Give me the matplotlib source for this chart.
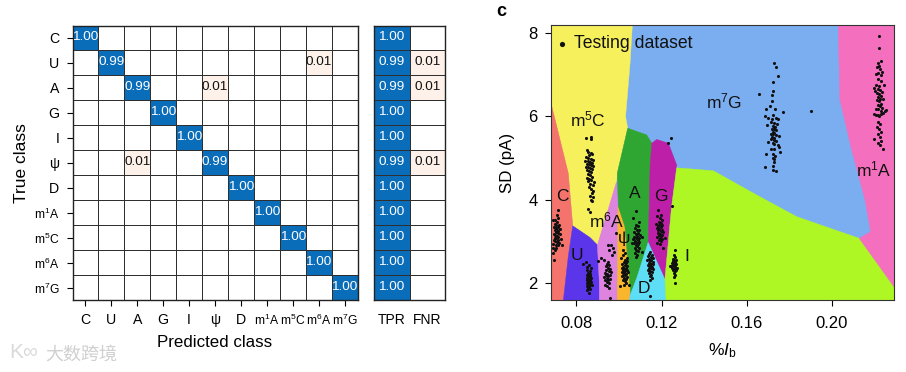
# -*- coding: UTF-8 -*-
import matplotlib
matplotlib.use('Agg')
from matplotlib import pyplot as plt
from matplotlib.colors import ListedColormap, BoundaryNorm
from matplotlib.patches import Polygon

plt.rcParams['font.family'] = ['Liberation Sans', 'DejaVu Sans']
plt.rcParams['mathtext.fontset'] = 'custom'
plt.rcParams['mathtext.rm'] = 'Liberation Sans'
plt.rcParams['mathtext.it'] = 'Liberation Sans:italic'

pred_labels = ['C', 'U', 'A', 'G', 'I', 'ψ', 'D', 'm$^1$A', 'm$^5$C', 'm$^6$A', 'm$^7$G']
rate_labels = ['TPR', 'FNR']

confusion = [
    [1.00, 0, 0, 0, 0, 0, 0, 0, 0, 0, 0],
    [0, 0.99, 0, 0, 0, 0, 0, 0, 0, 0.01, 0],
    [0, 0, 0.99, 0, 0, 0.01, 0, 0, 0, 0, 0],
    [0, 0, 0, 1.00, 0, 0, 0, 0, 0, 0, 0],
    [0, 0, 0, 0, 1.00, 0, 0, 0, 0, 0, 0],
    [0, 0, 0.01, 0, 0, 0.99, 0, 0, 0, 0, 0],
    [0, 0, 0, 0, 0, 0, 1.00, 0, 0, 0, 0],
    [0, 0, 0, 0, 0, 0, 0, 1.00, 0, 0, 0],
    [0, 0, 0, 0, 0, 0, 0, 0, 1.00, 0, 0],
    [0, 0, 0, 0, 0, 0, 0, 0, 0, 1.00, 0],
    [0, 0, 0, 0, 0, 0, 0, 0, 0, 0, 1.00],
]
tpr = [1.00, 0.99, 0.99, 1.00, 1.00, 0.99, 1.00, 1.00, 1.00, 1.00, 1.00]
fnr = [0, 0.01, 0.01, 0, 0, 0.01, 0, 0, 0, 0, 0]

# decision regions as (%Ib, SD)
region_m5C = [(.0681, 8.19), (.1063, 8.19), (.1052, 7.26), (.1031, 5.99), (.1041, 5.71), (.0992, 4.63),
              (.0989, 4.43), (.0899, 2.91), (.0864, 3.09), (.0783, 3.37), (.0762, 4.63), (.0681, 6.31)]
region_C = [(.0681, 6.31), (.0762, 4.63), (.0783, 3.37), (.0762, 2.63), (.0739, 1.585), (.0681, 1.585)]
region_U = [(.0783, 3.37), (.0864, 3.09), (.0899, 2.91), (.0908, 1.99), (.0908, 1.585), (.0739, 1.585), (.0762, 2.63)]
region_m6A = [(.0899, 2.91), (.0989, 4.43), (.0995, 3.83), (.0992, 1.585), (.0908, 1.585), (.0908, 1.99)]
region_psi = [(.0992, 1.585), (.0995, 3.84), (.1028, 3.35), (.1055, 1.99), (.1049, 1.585)]
region_A = [(.1041, 5.71), (.1130, 5.55), (.1154, 5.35), (.1146, 4.31), (.1138, 2.99), (.1083, 2.11),
            (.1055, 1.74), (.1028, 3.35), (.0997, 3.84), (.0992, 4.63)]
region_D = [(.1138, 2.99), (.1216, 2.11), (.1221, 1.585), (.1049, 1.585), (.1055, 1.74), (.1083, 2.11)]
region_G = [(.1154, 5.35), (.1177, 5.44), (.1232, 5.35), (.1271, 4.83), (.1247, 3.83), (.1216, 2.11),
            (.1138, 2.99), (.1146, 4.79)]
region_I = [(.1271, 4.76), (.1443, 4.69), (.1646, 4.11), (.1834, 3.59), (.2128, 3.07), (.2291, 1.91),
            (.2291, 1.585), (.1221, 1.585), (.1216, 2.11), (.1247, 3.83)]
region_m1A = [(.2029, 8.19), (.2291, 8.19), (.2291, 1.91), (.2128, 3.07), (.2181, 3.23), (.2155, 3.99),
              (.2092, 5.19), (.2037, 6.39)]

# testing points as (%Ib, SD)
pts_C = [(.0712, 3.75), (.0709, 3.62), (.0716, 3.55), (.0690, 3.52), (.0702, 3.5), (.0711, 3.46), (.0699, 3.42),
         (.0718, 3.4), (.0706, 3.38), (.0713, 3.35), (.0694, 3.33), (.0703, 3.31), (.0721, 3.3), (.0709, 3.28),
         (.0699, 3.26), (.0716, 3.24), (.0705, 3.22), (.0712, 3.2), (.0695, 3.18), (.0722, 3.17), (.0702, 3.15),
         (.0709, 3.13), (.0716, 3.11), (.0698, 3.09), (.0705, 3.07), (.0726, 3.06), (.0693, 3.04), (.0712, 3.03),
         (.0701, 3.0), (.0708, 2.98), (.0718, 2.96), (.0692, 2.94), (.0703, 2.92), (.0712, 2.9), (.0733, 2.9),
         (.0689, 2.85), (.0706, 2.85), (.0700, 2.78), (.0690, 2.72), (.0696, 2.55)]
pts_U = [(.0860, 2.42), (.0852, 2.38), (.0868, 2.36), (.0848, 2.3), (.0862, 2.28), (.0855, 2.25), (.0866, 2.22),
         (.0850, 2.2), (.0858, 2.18), (.0863, 2.16), (.0853, 2.14), (.0869, 2.13), (.0848, 2.11), (.0857, 2.1),
         (.0864, 2.08), (.0852, 2.06), (.0860, 2.05), (.0867, 2.03), (.0855, 2.01), (.0849, 2.0), (.0862, 1.98),
         (.0857, 1.96), (.0866, 1.95), (.0852, 1.93), (.0860, 1.91), (.0873, 1.95), (.0855, 1.88), (.0864, 1.86),
         (.0851, 1.83), (.0858, 1.75), (.0830, 2.45), (.0846, 2.5)]
pts_m6A = [(.0948, 2.92), (.0962, 2.9), (.0955, 2.78), (.0972, 2.84), (.0965, 2.68), (.0918, 2.6), (.0930, 2.55),
           (.0900, 2.52), (.0950, 2.5), (.0943, 2.46), (.0955, 2.42), (.0938, 2.4), (.0948, 2.36), (.0958, 2.33),
           (.0941, 2.3), (.0952, 2.28), (.0962, 2.26), (.0935, 2.24), (.0946, 2.22), (.0956, 2.2), (.0940, 2.18),
           (.0950, 2.16), (.0930, 2.14), (.0944, 2.12), (.0958, 2.1), (.0936, 2.08), (.0948, 2.06), (.0942, 2.02),
           (.0955, 2.0), (.0936, 1.96), (.0945, 1.92), (.0953, 1.88), (.0977, 2.75), (.0985, 3.2), (.0956, 1.65)]
pts_psi = [(.1020, 2.8), (.1030, 2.72), (.1018, 2.66), (.1036, 2.6), (.1027, 2.56), (.1040, 2.52), (.1022, 2.5),
           (.1032, 2.47), (.1016, 2.45), (.1026, 2.43), (.1038, 2.41), (.1021, 2.39), (.1031, 2.37), (.1012, 2.36),
           (.1024, 2.34), (.1036, 2.32), (.1019, 2.3), (.1029, 2.28), (.1041, 2.27), (.1015, 2.26), (.1025, 2.24),
           (.1034, 2.22), (.1020, 2.2), (.1030, 2.18), (.1012, 2.16), (.1038, 2.15), (.1024, 2.13), (.1032, 2.1),
           (.1020, 2.07), (.1028, 2.04), (.1035, 2.0), (.1022, 1.96), (.1003, 1.92), (.1045, 1.95), (.1010, 2.6)]
pts_A = [(.1082, 3.72), (.1068, 3.55), (.1092, 3.45), (.1078, 3.4), (.1088, 3.36), (.1075, 3.32), (.1095, 3.28),
         (.1083, 3.26), (.1070, 3.22), (.1090, 3.2), (.1078, 3.18), (.1098, 3.15), (.1085, 3.13), (.1072, 3.11),
         (.1092, 3.09), (.1080, 3.07), (.1066, 3.05), (.1088, 3.03), (.1076, 3.01), (.1096, 2.99), (.1084, 2.97),
         (.1070, 2.95), (.1091, 2.93), (.1078, 2.91), (.1087, 2.88), (.1074, 2.85), (.1095, 2.83), (.1082, 2.8),
         (.1090, 2.76), (.1076, 2.72), (.1086, 2.68), (.1080, 2.62), (.1108, 3.1), (.1060, 2.95), (.1110, 2.75)]
pts_D = [(.1148, 2.75), (.1140, 2.7), (.1155, 2.68), (.1135, 2.64), (.1150, 2.62), (.1160, 2.6), (.1142, 2.58),
         (.1152, 2.56), (.1132, 2.54), (.1146, 2.52), (.1158, 2.5), (.1140, 2.48), (.1150, 2.46), (.1162, 2.45),
         (.1136, 2.43), (.1146, 2.41), (.1155, 2.39), (.1141, 2.37), (.1150, 2.35), (.1160, 2.33), (.1138, 2.31),
         (.1148, 2.29), (.1156, 2.27), (.1143, 2.24), (.1152, 2.2), (.1146, 2.16), (.1155, 2.12), (.1148, 2.08),
         (.1145, 1.68)]
pts_G = [(.1183, 3.75), (.1196, 3.62), (.1180, 3.6), (.1191, 3.55), (.1202, 3.5), (.1186, 3.47), (.1197, 3.44),
         (.1176, 3.42), (.1190, 3.4), (.1203, 3.38), (.1184, 3.36), (.1195, 3.34), (.1178, 3.32), (.1190, 3.3),
         (.1201, 3.28), (.1185, 3.26), (.1196, 3.24), (.1206, 3.22), (.1181, 3.2), (.1192, 3.18), (.1202, 3.16),
         (.1187, 3.14), (.1198, 3.12), (.1180, 3.1), (.1193, 3.08), (.1204, 3.06), (.1188, 3.03), (.1198, 3.0),
         (.1215, 3.07), (.1178, 2.95), (.1192, 2.93), (.1208, 2.85), (.1247, 3.85)]
pts_I = [(.1262, 2.8), (.1257, 2.66), (.1264, 2.62), (.1252, 2.58), (.1260, 2.56), (.1268, 2.54), (.1255, 2.52),
         (.1263, 2.5), (.1249, 2.49), (.1258, 2.47), (.1267, 2.46), (.1253, 2.44), (.1261, 2.42), (.1246, 2.41),
         (.1256, 2.4), (.1265, 2.38), (.1251, 2.36), (.1259, 2.34), (.1268, 2.32), (.1254, 2.3), (.1262, 2.28),
         (.1257, 2.25), (.1265, 2.2), (.1256, 2.15), (.1262, 2.0), (.1272, 2.35), (.1241, 2.4)]
pts_m5C = [(.0847, 5.47), (.0868, 5.5), (.0870, 5.44), (.0850, 5.18), (.0855, 5.13), (.0867, 5.12), (.0875, 5.08),
           (.0860, 5.06), (.0845, 5.02), (.0853, 5.0), (.0868, 4.98), (.0878, 4.95), (.0840, 4.93), (.0857, 4.92),
           (.0865, 4.9), (.0873, 4.88), (.0850, 4.86), (.0860, 4.84), (.0869, 4.82), (.0880, 4.8), (.0845, 4.79),
           (.0855, 4.77), (.0864, 4.75), (.0874, 4.72), (.0851, 4.7), (.0861, 4.68), (.0870, 4.65), (.0856, 4.62),
           (.0866, 4.58), (.0875, 4.55), (.0850, 4.52), (.0860, 4.5), (.0870, 4.47), (.0885, 4.42), (.0857, 4.44),
           (.0866, 4.38), (.0876, 4.35), (.0860, 4.3), (.0868, 4.25), (.0880, 4.2), (.0872, 4.15), (.0866, 4.08),
           (.0878, 4.06), (.0870, 4.0), (.0874, 3.96), (.0855, 3.78), (.0864, 3.7)]
pts_m7G = [(.1727, 7.27), (.1739, 7.17), (.1748, 6.95), (.1723, 6.81), (.1725, 6.61), (.1656, 6.53), (.1719, 6.51),
           (.1720, 6.35), (.1691, 6.18), (.1711, 6.25), (.1734, 6.17), (.1770, 6.10), (.1725, 6.02), (.1684, 5.99),
           (.1700, 5.95), (.1717, 5.93), (.1735, 5.96), (.1745, 5.92), (.1712, 5.85), (.1728, 5.83), (.1740, 5.8),
           (.1695, 5.78), (.1722, 5.76), (.1733, 5.74), (.1716, 5.7), (.1727, 5.68), (.1738, 5.66), (.1721, 5.62),
           (.1730, 5.6), (.1712, 5.58), (.1725, 5.56), (.1735, 5.54), (.1750, 5.52), (.1720, 5.5), (.1730, 5.47),
           (.1715, 5.44), (.1726, 5.42), (.1737, 5.4), (.1698, 5.37), (.1721, 5.36), (.1730, 5.33), (.1745, 5.3),
           (.1752, 5.26), (.1712, 5.22), (.1727, 5.2), (.1755, 5.15), (.1690, 5.1), (.1724, 5.08), (.1732, 5.04),
           (.1722, 5.0), (.1730, 4.96), (.1727, 4.9), (.1684, 4.78), (.1723, 4.8), (.1725, 4.7), (.1735, 4.68)]
pts_m1A = [(.2220, 7.92), (.2220, 7.62), (.2214, 7.28), (.2232, 7.32), (.2222, 7.2), (.2210, 7.18), (.2226, 7.12),
           (.2235, 7.05), (.2218, 7.03), (.2228, 6.98), (.2214, 6.9), (.2232, 6.85), (.2208, 6.75), (.2222, 6.72),
           (.2199, 6.68), (.2216, 6.65), (.2227, 6.62), (.2236, 6.58), (.2212, 6.55), (.2222, 6.52), (.2230, 6.48),
           (.2215, 6.45), (.2225, 6.42), (.2238, 6.4), (.2210, 6.38), (.2220, 6.35), (.2230, 6.3), (.2214, 6.27),
           (.2226, 6.24), (.2234, 6.2), (.2205, 6.18), (.2218, 6.16), (.2228, 6.13), (.2248, 6.12), (.2198, 6.06),
           (.2206, 6.03), (.2214, 6.02), (.2222, 6.0), (.2230, 6.04), (.2240, 6.08), (.2215, 5.85), (.2224, 5.8),
           (.2212, 5.75), (.2220, 5.68), (.2232, 5.62), (.2216, 5.58), (.2226, 5.5), (.2197, 5.45), (.2218, 5.35),
           (.2232, 5.4), (.2240, 5.22), (.2224, 5.3), (.2252, 6.14), (.2203, 6.6), (.2242, 6.75), (.2205, 7.0)]
pts_stray = [(.1242, 5.47), (.1228, 5.35), (.1902, 6.11)]
pts_legend = [(.0731, 7.73)]

fig = plt.figure(figsize=(9.06, 3.72), dpi=100)
W, H = 906.0, 372.0


def axes_px(left, right, top, bottom):
    return fig.add_axes([left / W, 1 - bottom / H, (right - left) / W, (bottom - top) / H])


cmap = ListedColormap(['white', '#FDF1E9', '#0A6DBA'])
norm = BoundaryNorm([-0.5, 0.005, 0.5, 1.5], 3)


def draw_cells(ax, cells):
    ax.pcolormesh(cells, cmap=cmap, norm=norm, edgecolors='#2F2F2F', linewidth=0.7)
    ax.set_ylim(len(cells), 0)
    for i, row in enumerate(cells):
        for j, v in enumerate(row):
            if v > 0:
                ax.text(j + 0.5, i + 0.47, '%.2f' % v, ha='center', va='center', fontsize=9.7,
                        color='white' if v > 0.5 else '#111111')
    for s in ax.spines.values():
        s.set_linewidth(1.0)
        s.set_color('#222222')


def size_labels(labels):
    # plain letters are a bit bigger, the m$^n$X ones run wide in mathtext
    for lab in labels:
        lab.set_fontsize(8.7 if '$' in lab.get_text() else 10.2)


ax1 = axes_px(72.5, 357.5, 25.5, 300)
draw_cells(ax1, confusion)
ax1.set_xticks([i + 0.5 for i in range(11)])
ax1.set_xticklabels(pred_labels)
ax1.set_yticks([i + 0.5 for i in range(11)])
ax1.set_yticklabels(pred_labels)
size_labels(ax1.get_xticklabels())
size_labels(ax1.get_yticklabels())
ax1.tick_params(length=4.5, width=0.8, pad=5)
ax1.set_xlabel('Predicted class', fontsize=12.2, labelpad=5)
ax1.set_ylabel('True class', fontsize=12.5, labelpad=3)

ax2 = axes_px(373.7, 445.3, 25.5, 300)
draw_cells(ax2, [[t, f] for t, f in zip(tpr, fnr)])
ax2.set_xticks([0.5, 1.5])
ax2.set_xticklabels(rate_labels, fontsize=10)
ax2.set_yticks([])
ax2.tick_params(length=0, pad=9)

ax3 = axes_px(551, 894, 24.7, 300.3)
ax3.set_xlim(.0681, .2291)
ax3.set_ylim(1.585, 8.19)
ax3.set_facecolor('#7BAEF1')
regions = [
    (region_m5C, '#F6F05C'), (region_C, '#F4736C'), (region_U, '#5B35EA'), (region_m6A, '#DE84DE'),
    (region_psi, '#F9B62C'), (region_A, '#2FA632'), (region_D, '#5EDDF6'), (region_G, '#BD1FA9'),
    (region_I, '#AEF724'), (region_m1A, '#F56FBF'),
]
for verts, col in regions:
    ax3.add_patch(Polygon(verts, closed=True, facecolor=col, edgecolor=col, linewidth=0.3))

for pts in [pts_C, pts_U, pts_m6A, pts_psi, pts_A, pts_D, pts_G, pts_I, pts_m5C, pts_m7G, pts_m1A, pts_stray]:
    ax3.scatter([p[0] for p in pts], [p[1] for p in pts], s=5, color='#111111', linewidths=0, zorder=3)
ax3.scatter([p[0] for p in pts_legend], [p[1] for p in pts_legend], s=14, color='#111111', linewidths=0, zorder=3)
ax3.text(.0791, 7.73, 'Testing dataset', fontsize=12.7, va='center', ha='left', color='#111111', zorder=4)

class_texts = [
    ('m$^5$C', .0856, 5.92), ('C', .0736, 4.07), ('U', .0803, 2.67), ('m$^6$A', .0942, 3.51), ('A', .1072, 4.15),
    ('G', .1196, 4.07), ('ψ', .1024, 3.07), ('D', .1119, 1.87), ('I', .1318, 2.63), ('m$^7$G', .1494, 6.35),
    ('m$^1$A', .2198, 4.71),
]
for label, tx, ty in class_texts:
    ax3.text(tx, ty, label, fontsize=12.5, ha='center', va='center', color='#111111', zorder=4)

ax3.set_xticks([.08, .12, .16, .20])
ax3.set_xticklabels(['0.08', '0.12', '0.16', '0.20'], fontsize=12)
ax3.set_yticks([2, 4, 6, 8])
ax3.set_yticklabels(['2', '4', '6', '8'], fontsize=12)
ax3.tick_params(axis='x', length=4.5, width=0.8, pad=7)
ax3.tick_params(axis='y', length=4.5, width=0.8, pad=5)
for s in ax3.spines.values():
    s.set_linewidth(0.8)
    s.set_color('#333333')
ax3.set_xlabel('%$\\mathit{I}_{\\mathrm{b}}$', fontsize=12.5, labelpad=7)
ax3.set_ylabel('SD (pA)', fontsize=12.2, labelpad=10)

fig.text(501 / W, 1 - 11 / H, 'c', fontsize=13, fontweight='bold', ha='center', va='center')
fig.text(45 / W, 1 - 355 / H, '大数跨境', fontsize=13, color='#D0D0D0', ha='left', va='center',
         family=['Noto Sans CJK SC', 'DejaVu Sans'])
fig.text(9 / W, 1 - 352 / H, 'K∞', fontsize=15, color='#DADADA', ha='left', va='center')

fig.savefig('out.png', dpi=100)
